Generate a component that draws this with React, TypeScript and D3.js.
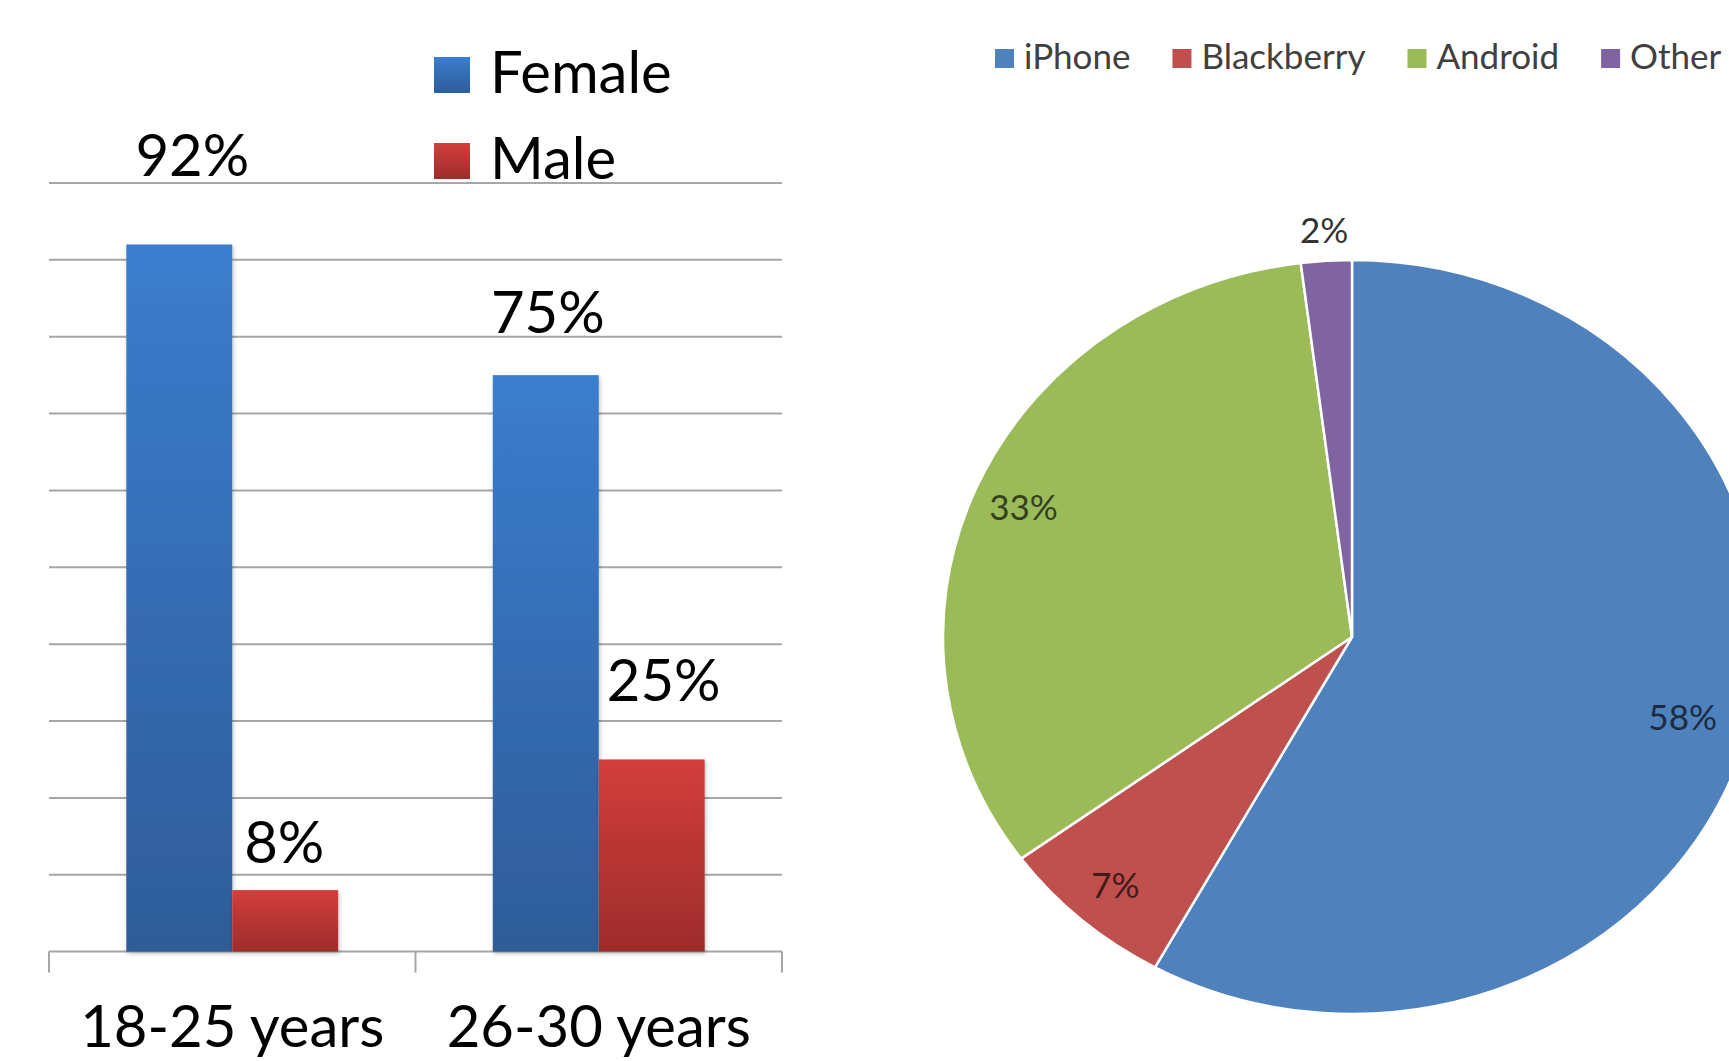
import React, { useEffect, useRef } from "react";
import * as d3 from "d3";

// bar chart data
const ageGroups = ["18-25 years", "26-30 years"];
const genders = ["Female", "Male"];
const femaleShare = [92, 75];
const maleShare = [8, 25];
const gridTicks = [0, 10, 20, 30, 40, 50, 60, 70, 80, 90, 100];

// pie chart data
const phones = ["iPhone", "Blackberry", "Android", "Other"];
const phoneShare = [58, 7, 33, 2];

// label nudges, [dx, lift above bar top] in px, same order as the bars
const barLabelNudge = {
  Female: [
    [13, 68],
    [2, 42],
  ],
  Male: [
    [-1, 27],
    [12, 58],
  ],
};

const W = 1729;
const H = 1061;
const FONT = "Lato, 'Open Sans', sans-serif";

const App = () => {
  const svgRef = useRef<SVGSVGElement>(null);

  useEffect(() => {
    document.body.style.margin = "0";
    document.body.style.overflow = "hidden";

    const svg = d3.select(svgRef.current);
    svg.selectAll("*").remove();

    const defs = svg.append("defs");
    const grad = (id: string, top: string, bottom: string) => {
      const lg = defs
        .append("linearGradient")
        .attr("id", id)
        .attr("x1", 0)
        .attr("y1", 0)
        .attr("x2", 0)
        .attr("y2", 1);
      lg.append("stop").attr("offset", "0%").attr("stop-color", top);
      lg.append("stop").attr("offset", "100%").attr("stop-color", bottom);
    };
    grad("grad-Female", "#3b7dce", "#2e5c99");
    grad("grad-Male", "#d33e3b", "#9d2c2b");

    defs
      .append("filter")
      .attr("id", "barShadow")
      .attr("x", "-10%")
      .attr("y", "-10%")
      .attr("width", "130%")
      .attr("height", "120%")
      .append("feDropShadow")
      .attr("dx", 1)
      .attr("dy", 2)
      .attr("stdDeviation", 2)
      .attr("flood-color", "#000")
      .attr("flood-opacity", 0.25);

    // ---------- bar chart ----------
    const x0 = d3.scaleBand().domain(ageGroups).range([49, 782]);
    const x1 = d3
      .scaleBand()
      .domain(genders)
      .range([0, x0.bandwidth()])
      .paddingOuter(0.73);
    const y = d3.scaleLinear().domain([0, 100]).range([951.6, 183]);

    const bars = svg.append("g");

    bars
      .selectAll("line.grid")
      .data(gridTicks)
      .enter()
      .append("line")
      .attr("x1", x0.range()[0])
      .attr("x2", x0.range()[1])
      .attr("y1", (d) => y(d))
      .attr("y2", (d) => y(d))
      .attr("stroke", "#a6a6a6")
      .attr("stroke-width", 2);

    const edges = [...ageGroups.map((c) => x0(c)!), x0.range()[1]];
    bars
      .selectAll("line.tick")
      .data(edges)
      .enter()
      .append("line")
      .attr("x1", (d) => d)
      .attr("x2", (d) => d)
      .attr("y1", y(0))
      .attr("y2", y(0) + 21)
      .attr("stroke", "#a6a6a6")
      .attr("stroke-width", 2);

    const series = { Female: femaleShare, Male: maleShare };

    genders.forEach((gName) => {
      const vals = series[gName];
      bars
        .selectAll(`rect.bar-${gName}`)
        .data(vals)
        .enter()
        .append("rect")
        .attr("x", (_, i) => x0(ageGroups[i])! + x1(gName)!)
        .attr("y", (d) => y(d))
        .attr("width", x1.bandwidth())
        .attr("height", (d) => y(0) - y(d))
        .attr("fill", `url(#grad-${gName})`)
        .attr("filter", "url(#barShadow)");

      bars
        .selectAll(`text.lab-${gName}`)
        .data(vals)
        .enter()
        .append("text")
        .attr(
          "x",
          (_, i) =>
            x0(ageGroups[i])! + x1(gName)! + x1.bandwidth() / 2 + barLabelNudge[gName][i][0]
        )
        .attr("y", (d, i) => y(d) - barLabelNudge[gName][i][1])
        .attr("text-anchor", "middle")
        .style("font-family", FONT)
        .style("font-size", "58px")
        .attr("fill", "#000")
        .text((d) => `${d}%`);
    });

    bars
      .selectAll("text.cat")
      .data(ageGroups)
      .enter()
      .append("text")
      .attr("x", (d) => x0(d)! + x0.bandwidth() / 2)
      .attr("y", 1047)
      .attr("text-anchor", "middle")
      .style("font-family", FONT)
      .style("font-size", "58px")
      .attr("fill", "#000")
      .text((d) => d);

    const barLegend = bars
      .selectAll("g.leg")
      .data(genders)
      .enter()
      .append("g")
      .attr("transform", (_, i) => `translate(434, ${57 + i * 86})`);
    barLegend
      .append("rect")
      .attr("width", 36)
      .attr("height", 36)
      .attr("fill", (d) => `url(#grad-${d})`);
    barLegend
      .append("text")
      .attr("x", 56)
      .attr("y", 36)
      .style("font-family", FONT)
      .style("font-size", "58px")
      .attr("fill", "#000")
      .text((d) => d);

    // ---------- pie chart ----------
    const cx = 1352;
    const cy = 637;
    const rx = 409;
    const ry = 377;
    const color = d3
      .scaleOrdinal<string>()
      .domain(phones)
      .range(["#4f81bd", "#c0504d", "#9bbb59", "#8064a2"]);

    const arcs = d3
      .pie<number>()
      .sort(null)
      .value((d) => d)(phoneShare);
    const arc = d3.arc<d3.PieArcDatum<number>>().innerRadius(0).outerRadius(ry);

    const pieG = svg
      .append("g")
      .attr("transform", `translate(${cx}, ${cy}) scale(${rx / ry}, 1)`);
    pieG
      .selectAll("path")
      .data(arcs)
      .enter()
      .append("path")
      .attr("d", arc)
      .attr("fill", (_, i) => color(phones[i]))
      .attr("stroke", "#fff")
      .attr("stroke-width", 2.5)
      .attr("vector-effect", "non-scaling-stroke");

    const pieLabels = svg
      .append("g")
      .selectAll("text")
      .data(arcs)
      .enter()
      .append("text")
      .attr("text-anchor", "middle")
      .attr("dominant-baseline", "central")
      .style("font-family", FONT)
      .style("font-size", "35px")
      .attr("fill", (d, i) =>
        d.value < 5 ? "#333" : d3.color(color(phones[i]))!.darker(3).toString()
      )
      .text((d) => `${d.value}%`);

    pieLabels.each(function (d) {
      const a = (d.startAngle + d.endAngle) / 2;
      const f = d.value < 5 ? 1.085 : d.value > 50 ? 0.84 : 0.875;
      const w = (this as SVGTextElement).getComputedTextLength();
      let px = cx + rx * f * Math.sin(a);
      px = Math.min(px, W - w / 2 - 12);
      const py = cy - ry * f * Math.cos(a);
      d3.select(this).attr("x", px).attr("y", py);
    });

    // pie legend, laid out left to right
    const pieLegend = svg.append("g").attr("transform", "translate(995, 49)");
    let lx = 0;
    phones.forEach((p) => {
      const item = pieLegend.append("g").attr("transform", `translate(${lx}, 0)`);
      item.append("rect").attr("width", 19).attr("height", 19).attr("fill", color(p));
      const t = item
        .append("text")
        .attr("x", 29)
        .attr("y", 20)
        .style("font-family", FONT)
        .style("font-size", "35px")
        .attr("fill", "#404040")
        .text(p);
      const tw = (t.node() as SVGTextElement).getComputedTextLength();
      lx += 29 + tw + 42;
    });
  }, []);

  return <svg ref={svgRef} width={W} height={H} style={{ display: "block" }}></svg>;
};

export default App;
